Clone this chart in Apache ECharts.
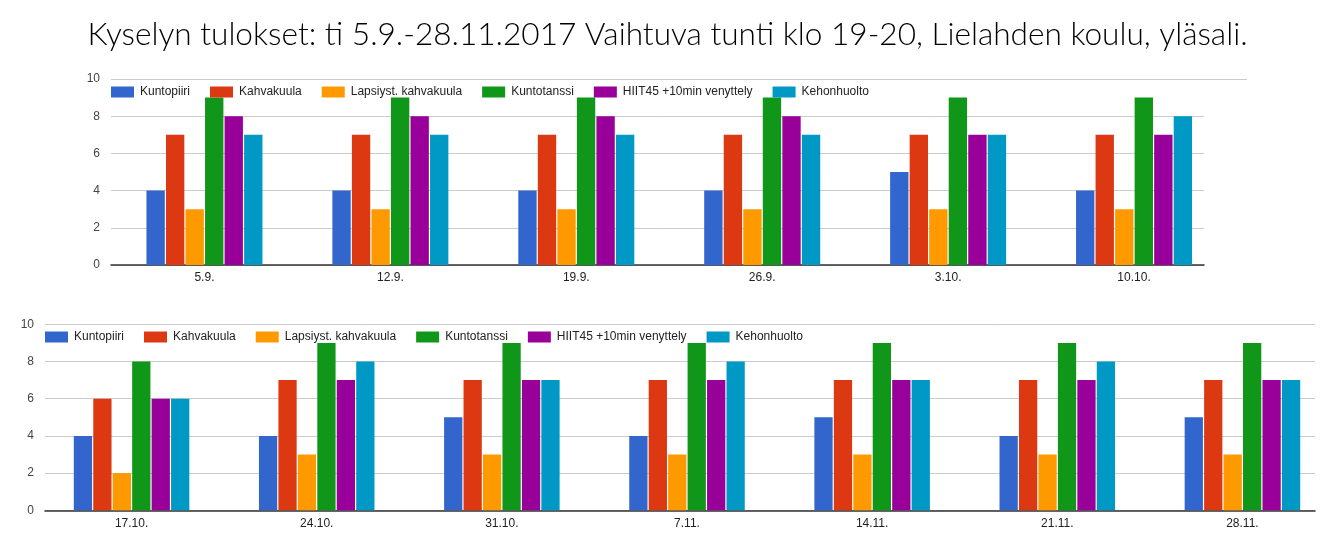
<!DOCTYPE html>
<html>
<head>
<meta charset="utf-8">
<script src="https://cdn.jsdelivr.net/npm/echarts@6/dist/echarts.min.js"></script>
<style>
html,body{margin:0;padding:0;background:#fff;}
#c{width:1335px;height:546px;}
</style>
</head>
<body>
<div id="c"></div>
<script>
const titleText = 'Kyselyn tulokset: ti 5.9.-28.11.2017 Vaihtuva tunti klo 19-20, Lielahden koulu, yläsali.';
const seriesNames = ['Kuntopiiri', 'Kahvakuula', 'Lapsiyst. kahvakuula', 'Kuntotanssi', 'HIIT45 +10min venyttely', 'Kehonhuolto'];
const seriesColors = ['#3366cc', '#dc3912', '#ff9900', '#109618', '#990099', '#0099c6'];
const yTicks = [0, 2, 4, 6, 8, 10];

// Top panel
const topDates = ['5.9.', '12.9.', '19.9.', '26.9.', '3.10.', '10.10.'];
const topKuntopiiri = [4, 4, 4, 4, 5, 4];
const topKahvakuula = [7, 7, 7, 7, 7, 7];
const topLapsiyst = [3, 3, 3, 3, 3, 3];
const topKuntotanssi = [9, 9, 9, 9, 9, 9];
const topHiit = [8, 8, 8, 8, 7, 7];
const topKehonhuolto = [7, 7, 7, 7, 7, 8];

// Bottom panel
const bottomDates = ['17.10.', '24.10.', '31.10.', '7.11.', '14.11.', '21.11.', '28.11.'];
const bottomKuntopiiri = [4, 4, 5, 4, 5, 4, 5];
const bottomKahvakuula = [6, 7, 7, 7, 7, 7, 7];
const bottomLapsiyst = [2, 3, 3, 3, 3, 3, 3];
const bottomKuntotanssi = [8, 9, 9, 9, 9, 9, 9];
const bottomHiit = [6, 7, 7, 7, 7, 7, 7];
const bottomKehonhuolto = [6, 8, 7, 8, 7, 8, 7];

const topData = [topKuntopiiri, topKahvakuula, topLapsiyst, topKuntotanssi, topHiit, topKehonhuolto];
const bottomData = [bottomKuntopiiri, bottomKahvakuula, bottomLapsiyst, bottomKuntotanssi, bottomHiit, bottomKehonhuolto];

const W = 1335;
const font = 'Liberation Sans, Arial, sans-serif';
const gridLineColor = '#cccccc';
const transparent = 'rgba(0,0,0,0)';

// grids: 0 top bars, 1 top lines, 2 top extended top line, 3 bottom bars, 4 bottom lines
const grids = [
  {left: 111.5, right: W - 1227, top: 79, height: 186},
  {left: 111, right: W - 1204, top: 79, height: 186},
  {left: 111, right: W - 1247, top: 79, height: 186},
  {left: 39, right: W - 1341.5, top: 324.3, height: 186},
  {left: 45, right: W - 1315, top: 324.3, height: 186}
];

function yAx(gridIndex, opts) {
  return Object.assign({
    type: 'value', gridIndex: gridIndex, min: yTicks[0], max: yTicks[yTicks.length - 1], interval: 2,
    axisLine: {show: false}, axisTick: {show: false},
    axisLabel: {show: false}, splitLine: {show: false}
  }, opts || {});
}
function xAx(gridIndex, data, opts) {
  return Object.assign({
    type: 'category', gridIndex: gridIndex, data: data,
    axisLine: {show: false}, axisTick: {show: false},
    axisLabel: {show: false}, splitLine: {show: false}
  }, opts || {});
}

const xLabel = {show: true, color: '#222', fontSize: 12, fontFamily: font, margin: 7, interval: 0};
const yLabel = {show: true, color: '#444', fontSize: 12, fontFamily: font, margin: 11};
const baseLine = {show: true, lineStyle: {color: '#333', width: 1.5}};

const xAxes = [
  xAx(0, topDates, {axisLabel: xLabel}),
  xAx(1, topDates, {axisLine: baseLine}),
  xAx(2, topDates),
  xAx(3, bottomDates, {axisLabel: xLabel}),
  xAx(4, bottomDates, {axisLine: baseLine})
];
const yAxes = [
  yAx(0),
  yAx(1, {axisLabel: yLabel, splitLine: {show: true, lineStyle: {color: gridLineColor, width: 1}}}),
  yAx(2, {splitLine: {show: true, lineStyle: {color: [transparent, transparent, transparent, transparent, transparent, gridLineColor], width: 1}}}),
  yAx(3),
  yAx(4, {axisLabel: yLabel, splitLine: {show: true, lineStyle: {color: gridLineColor, width: 1}}})
];

const series = [];
function addSeries(dataSets, axisIndex) {
  dataSets.forEach(function (d, i) {
    series.push({
      type: 'bar', name: seriesNames[i], data: d,
      xAxisIndex: axisIndex, yAxisIndex: axisIndex,
      barGap: '6.5%', barCategoryGap: '37.6%',
      itemStyle: {color: seriesColors[i]},
      emphasis: {disabled: true}
    });
  });
}
addSeries(topData, 0);
addSeries(bottomData, 3);

function legendAt(left, top) {
  return {
    data: seriesNames, left: left, top: top, orient: 'horizontal',
    itemWidth: 23, itemHeight: 11, itemGap: 20,
    icon: 'rect', selectedMode: false,
    textStyle: {color: '#222', fontSize: 12, fontFamily: font, padding: [0, 0, 0, 1]},
    padding: 0
  };
}

const chart = echarts.init(document.getElementById('c'), null, {renderer: 'canvas'});
chart.setOption({
  animation: false,
  backgroundColor: '#ffffff',
  color: seriesColors,
  title: {
    text: titleText, left: 'center', top: 14, padding: [5, 22, 5, 5],
    textStyle: {fontFamily: 'Lato, sans-serif', fontWeight: 300, fontSize: 31.6, color: '#000'}
  },
  legend: [legendAt(111, 86), legendAt(45, 331)],
  grid: grids,
  xAxis: xAxes,
  yAxis: yAxes,
  series: series
});
</script>
</body>
</html>
